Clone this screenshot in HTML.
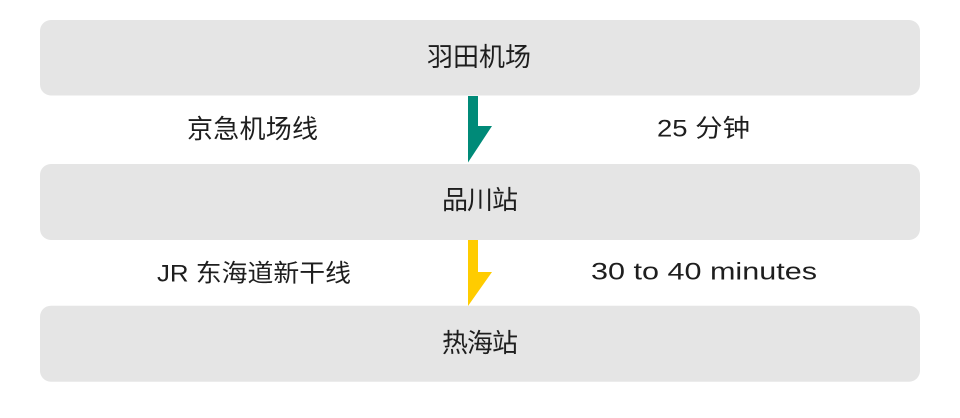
<!DOCTYPE html>
<html>
<head>
<meta charset="utf-8">
<style>
  html, body { margin: 0; padding: 0; background: #ffffff; }
  body { width: 960px; height: 418px; overflow: hidden; }
  svg { display: block; }
  text {
    font-family: "Liberation Sans", "Noto Sans CJK SC", sans-serif;
    fill: #1e1e1e;
  }
</style>
</head>
<body>
<svg width="960" height="418" viewBox="0 0 960 418" xmlns="http://www.w3.org/2000/svg">
  <!-- boxes -->
  <rect x="40" y="20" width="880" height="75.5" rx="11" ry="11" fill="#e5e5e5"/>
  <rect x="40" y="164" width="880" height="76" rx="11" ry="11" fill="#e5e5e5"/>
  <rect x="40" y="305.7" width="880" height="76" rx="11" ry="11" fill="#e5e5e5"/>

  <!-- arrows -->
  <polygon points="468,96 478,96 478,126 492,126 468,162.5" fill="#008a78"/>
  <polygon points="468,240 478,240 478,272 492,272 468,306" fill="#ffcc00"/>

  <!-- labels -->
  <text x="479" y="66" font-size="26" text-anchor="middle" textLength="104">羽田机场</text>
  <text x="252.5" y="138" font-size="26" text-anchor="middle" textLength="131">京急机场线</text>
  <text x="703.5" y="136.5" font-size="24.5" text-anchor="middle" textLength="93" lengthAdjust="spacingAndGlyphs">25 分钟</text>
  <text x="480" y="209" font-size="26" text-anchor="middle" textLength="76">品川站</text>
  <text x="254" y="281.5" font-size="24.5" text-anchor="middle" textLength="194" lengthAdjust="spacingAndGlyphs">JR 东海道新干线</text>
  <text x="704" y="279.5" font-size="24.5" text-anchor="middle" textLength="226" lengthAdjust="spacingAndGlyphs">30 to 40 minutes</text>
  <text x="480" y="352" font-size="26" text-anchor="middle" textLength="76">热海站</text>
</svg>
</body>
</html>
